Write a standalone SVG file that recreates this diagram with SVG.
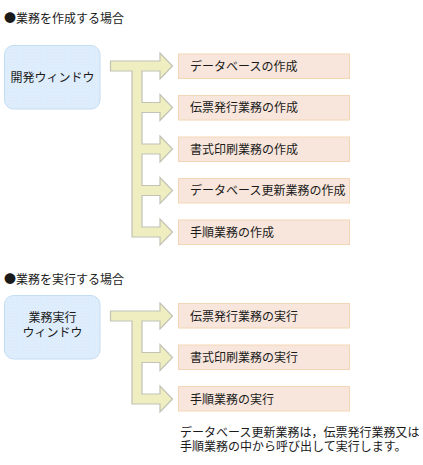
<svg xmlns="http://www.w3.org/2000/svg" width="423" height="465" viewBox="0 0 423 465">
<style>
text{font-family:"Noto Sans CJK JP","Noto Sans CJK SC",sans-serif;font-size:12px;fill:#1a1a1a}
.win{fill:url(#dots);stroke:#c3ddf3;stroke-width:1}
.task{fill:#f8e6dc;stroke:#f3d6b4;stroke-width:1}
.arrow{fill:#eeeec0;stroke:#c2c2b6;stroke-width:1.2;stroke-linejoin:miter}
.c{text-anchor:middle}
</style>
<defs>
<pattern id="dots" width="3" height="3" patternUnits="userSpaceOnUse">
<rect width="3" height="3" fill="#dbebfc"/>
<rect x="0" y="0" width="1" height="1" fill="#e9f3fd"/>
<rect x="1.5" y="1.5" width="1" height="1" fill="#e9f3fd"/>
</pattern>
</defs>
<rect width="423" height="465" fill="#ffffff"/>
<text x="4" y="23">●業務を作成する場合</text>
<text x="4" y="283.5">●業務を実行する場合</text>
<g id="connectors">
<path class="arrow" d="M110.5,61 H160 V53 L172.5,66 L160,79 V71 H142 V102.5 H160 V94.5 L172.5,107.5 L160,120.5 V112.5 H142 V144 H160 V136 L172.5,149 L160,162 V154 H142 V185.5 H160 V177.5 L172.5,190.5 L160,203.5 V195.5 H142 V227 H160 V219 L172.5,232 L160,245 V237 H132 V71 H110.5 Z"/>
<path class="arrow" d="M110.5,311 H160 V303 L172.5,316 L160,329 V321 H142 V352.5 H160 V344.5 L172.5,357.5 L160,370.5 V362.5 H142 V394 H160 V386 L172.5,399 L160,412 V404 H132 V321 H110.5 Z"/>
</g>
<g id="win-create">
<rect class="win" x="4.5" y="45.5" width="95.5" height="63.5" rx="9"/>
<text class="c" x="52.5" y="81.5">開発ウィンドウ</text>
</g>
<g id="task-db">
<rect class="task" x="178.5" y="54" width="171" height="24.5"/>
<text x="190" y="70.5">データベースの作成</text>
</g>
<g id="task-denpyo">
<rect class="task" x="178.5" y="95.5" width="171" height="24.5"/>
<text x="190" y="112">伝票発行業務の作成</text>
</g>
<g id="task-shoshiki">
<rect class="task" x="178.5" y="137" width="171" height="24.5"/>
<text x="190" y="153.5">書式印刷業務の作成</text>
</g>
<g id="task-dbupdate">
<rect class="task" x="178.5" y="178.5" width="171" height="24.5"/>
<text x="190" y="195">データベース更新業務の作成</text>
</g>
<g id="task-tejun">
<rect class="task" x="178.5" y="220" width="171" height="24.5"/>
<text x="190" y="236.5">手順業務の作成</text>
</g>
<g id="win-exec">
<rect class="win" x="4.5" y="295.5" width="95.5" height="63.5" rx="9"/>
<text class="c" x="52.5" y="322">業務実行</text>
<text class="c" x="52.5" y="337">ウィンドウ</text>
</g>
<g id="exec-denpyo">
<rect class="task" x="178.5" y="303.5" width="171" height="24.5"/>
<text x="190" y="320.5">伝票発行業務の実行</text>
</g>
<g id="exec-shoshiki">
<rect class="task" x="178.5" y="345" width="171" height="24.5"/>
<text x="190" y="362">書式印刷業務の実行</text>
</g>
<g id="exec-tejun">
<rect class="task" x="178.5" y="386.5" width="171" height="24.5"/>
<text x="190" y="403.5">手順業務の実行</text>
</g>
<g id="note">
<text x="180" y="437">データベース更新業務は，伝票発行業務又は</text>
<text x="180" y="451">手順業務の中から呼び出して実行します。</text>
</g>
</svg>
